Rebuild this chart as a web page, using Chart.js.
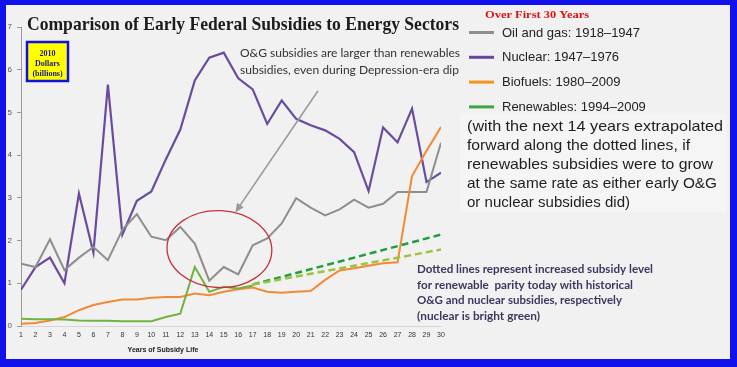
<!DOCTYPE html>
<html>
<head>
<meta charset="utf-8">
<script src="https://cdn.jsdelivr.net/npm/chart.js@4.4.1/dist/chart.umd.min.js"></script>
<style>
  html, body { margin: 0; padding: 0; background: #1111ee; }
  canvas { display: block; }
</style>
</head>
<body>
<canvas id="chart" width="737" height="367"></canvas>
<script>
// Years of subsidy life
const years = [1, 2, 3, 4, 5, 6, 7, 8, 9, 10, 11, 12, 13, 14, 15, 16, 17, 18, 19, 20, 21, 22, 23, 24, 25, 26, 27, 28, 29, 30];

// Subsidies, 2010 dollars (billions)
const oilGas = [1.46, 1.38, 2.03, 1.31, 1.6, 1.85, 1.54, 2.25, 2.62, 2.09, 2.01, 2.32, 1.93, 1.06, 1.38, 1.21, 1.89, 2.05, 2.4, 2.99, 2.77, 2.59, 2.73, 2.96, 2.77, 2.86, 3.14, 3.14, 3.14, 4.29];
const nuclear = [0.85, 1.38, 1.6, 1.0, 3.1, 1.72, 5.65, 2.14, 2.93, 3.15, 3.9, 4.6, 5.75, 6.28, 6.4, 5.8, 5.54, 4.73, 5.28, 4.85, 4.7, 4.58, 4.38, 4.07, 3.16, 4.65, 4.3, 5.09, 3.37, 3.59];
const biofuels = [0.05, 0.07, 0.13, 0.21, 0.37, 0.49, 0.56, 0.62, 0.62, 0.66, 0.68, 0.68, 0.76, 0.72, 0.8, 0.86, 0.9, 0.8, 0.78, 0.8, 0.82, 1.08, 1.3, 1.35, 1.41, 1.47, 1.49, 3.51, 4.1, 4.66];
const renewables = [0.17, 0.16, 0.16, 0.15, 0.13, 0.12, 0.12, 0.11, 0.11, 0.11, 0.21, 0.29, 1.38, 0.8, 0.92, 0.88, 0.95];

// Dotted extrapolations (start and end only)
const paceYears = [17, 30];
const ogPace = [0.97, 1.79];
const nuclearPace = [0.97, 2.14];

const yTicks = [0, 1, 2, 3, 4, 5, 6, 7];

const legendLabels = ['Oil and gas: 1918\u20131947', 'Nuclear: 1947\u20131976', 'Biofuels: 1980\u20132009', 'Renewables: 1994\u20132009'];
const legendColors = ['#8e8e8e', '#6a45a0', '#f7941d', '#3fa346'];

const noteLines = [
    '(with the next 14 years extrapolated',
    'forward along the dotted lines, if',
    'renewables subsidies were to grow',
    'at the same rate as either early O&G',
    'or nuclear subsidies did)'
];
const dottedLines = [
    'Dotted lines represent increased subsidy level',
    'for renewable  parity today with historical',
    'O&G and nuclear subsidies, respectively',
    '(nuclear is bright green)'
];

function pts(xs, ys) {
    return ys.map((v, i) => ({ x: xs[i], y: v }));
}

// draw text squeezed/stretched to a given width
function fitText(ctx, text, x, y, w, font, color) {
    ctx.save();
    ctx.font = font;
    ctx.fillStyle = color;
    ctx.textBaseline = 'alphabetic';
    ctx.textAlign = 'left';
    const m = ctx.measureText(text).width;
    ctx.translate(x, y);
    if (w && m > 0) ctx.scale(w / m, 1);
    ctx.fillText(text, 0, 0);
    ctx.restore();
}

const decorations = {
    id: 'decorations',
    beforeDraw(chart) {
        const ctx = chart.ctx;
        ctx.save();
        ctx.fillStyle = '#1111ee';
        ctx.fillRect(0, 0, chart.width, chart.height);
        ctx.fillStyle = '#f1f1f1';
        ctx.fillRect(6, 5, 724, 354);
        ctx.restore();
    },
    afterDraw(chart) {
        const ctx = chart.ctx;
        const xs = chart.scales.x, ys = chart.scales.y;

        // title
        fitText(ctx, 'Comparison of Early Federal Subsidies to Energy Sectors', 27, 29.5, 432,
            'bold 19px "Liberation Serif", serif', '#1b1b1b');
        fitText(ctx, 'Over First 30 Years', 485, 18, 104, 'bold 11px "Liberation Serif", serif', '#e01010');

        // units box
        ctx.save();
        ctx.fillStyle = '#ffff00';
        ctx.fillRect(27, 42, 41, 39);
        ctx.strokeStyle = '#1010e0';
        ctx.lineWidth = 2.5;
        ctx.strokeRect(27, 42, 41, 39);
        ctx.fillStyle = '#1a1a70';
        ctx.font = 'bold 8px "Liberation Serif", serif';
        ctx.textAlign = 'center';
        ctx.fillText('2010', 47.5, 56);
        ctx.fillText('Dollars', 47.5, 65.5);
        ctx.fillText('(billions)', 47.5, 75.5);
        ctx.restore();

        // legend
        legendLabels.forEach((label, i) => {
            const y = 32.5 + i * 24.8;
            ctx.save();
            ctx.strokeStyle = legendColors[i];
            ctx.lineWidth = 3;
            ctx.beginPath();
            ctx.moveTo(469, y);
            ctx.lineTo(494, y);
            ctx.stroke();
            ctx.restore();
            ctx.save();
            ctx.font = '13px "Liberation Sans", sans-serif';
            ctx.fillStyle = '#222';
            ctx.textBaseline = 'middle';
            ctx.fillText(label, 502, y + 0.5);
            ctx.restore();
        });

        // extrapolation note
        ctx.save();
        ctx.fillStyle = '#f5f5f5';
        ctx.fillRect(460, 114, 266, 98);
        ctx.restore();
        const noteW = [256, 223, 246, 250, 163];
        noteLines.forEach((t, i) => {
            fitText(ctx, t, 467, 131 + i * 19, noteW[i], '15px "Liberation Sans", sans-serif', '#1e1e1e');
        });

        // O&G annotation
        fitText(ctx, 'O&G subsidies are larger than renewables', 240, 57, 220, '12px Lato, sans-serif', '#333');
        fitText(ctx, 'subsidies, even during Depression-era dip', 240, 74, 219, '12px Lato, sans-serif', '#333');

        // dotted lines note
        const dotW = [236, 216, 205, 123];
        dottedLines.forEach((t, i) => {
            fitText(ctx, t, 417, 273 + i * 15.5, dotW[i], 'bold 11px Lato, sans-serif', '#3a3760');
        });

        // arrow to the dip
        const ax0 = xs.getPixelForValue(21.5), ay0 = ys.getPixelForValue(5.5);
        const ax1 = xs.getPixelForValue(15.8), ay1 = ys.getPixelForValue(2.66);
        const ang = Math.atan2(ay1 - ay0, ax1 - ax0);
        ctx.save();
        ctx.strokeStyle = '#9a9a9a';
        ctx.fillStyle = '#9a9a9a';
        ctx.lineWidth = 1.6;
        ctx.beginPath();
        ctx.moveTo(ax0, ay0);
        ctx.lineTo(ax1 - 6 * Math.cos(ang), ay1 - 6 * Math.sin(ang));
        ctx.stroke();
        ctx.beginPath();
        ctx.moveTo(ax1, ay1);
        ctx.lineTo(ax1 - 9 * Math.cos(ang) + 4 * Math.sin(ang), ay1 - 9 * Math.sin(ang) - 4 * Math.cos(ang));
        ctx.lineTo(ax1 - 9 * Math.cos(ang) - 4 * Math.sin(ang), ay1 - 9 * Math.sin(ang) + 4 * Math.cos(ang));
        ctx.closePath();
        ctx.fill();
        ctx.restore();

        // red ellipse around the depression-era dip
        const cx = xs.getPixelForValue(14.7), cy = ys.getPixelForValue(1.8);
        const rx = xs.getPixelForValue(14.7 + 3.62) - cx;
        const ry = cy - ys.getPixelForValue(1.8 + 0.9);
        ctx.save();
        ctx.strokeStyle = '#c43338';
        ctx.lineWidth = 1.3;
        ctx.beginPath();
        ctx.ellipse(cx, cy, rx, ry, 0.05, 0, Math.PI * 2);
        ctx.stroke();
        ctx.restore();

        // x axis title
        ctx.save();
        ctx.font = 'bold 7px "Liberation Sans", sans-serif';
        ctx.fillStyle = '#222';
        ctx.textAlign = 'center';
        ctx.fillText('Years of Subsidy Life', 163, 352);
        ctx.restore();
    }
};

new Chart(document.getElementById('chart'), {
    type: 'line',
    data: {
        datasets: [
            { label: 'Oil and gas', data: pts(years, oilGas), borderColor: '#8e8e8e', borderWidth: 2, order: 3 },
            { label: 'Nuclear', data: pts(years, nuclear), borderColor: '#6a4c9f', borderWidth: 2.2, order: 4 },
            { label: 'Biofuels', data: pts(years, biofuels), borderColor: '#f28a35', borderWidth: 2, order: 2 },
            { label: 'Renewables', data: pts(years, renewables), borderColor: '#72b242', borderWidth: 2, order: 1 },
            { label: 'O&G pace', data: pts(paceYears, ogPace), borderColor: '#9cc23e', borderWidth: 2.5, borderDash: [7, 4], order: 0 },
            { label: 'Nuclear pace', data: pts(paceYears, nuclearPace), borderColor: '#1f9f3c', borderWidth: 2.5, borderDash: [7, 4], order: 0 }
        ]
    },
    options: {
        responsive: false,
        animation: false,
        devicePixelRatio: 1,
        layout: { padding: { left: 0, top: 27, right: 296, bottom: 17 } },
        elements: { point: { radius: 0 }, line: { tension: 0 } },
        plugins: { legend: { display: false }, tooltip: { enabled: false } },
        scales: {
            x: {
                type: 'linear',
                min: 1,
                max: 30,
                afterFit: s => { s.height = 24; },
                ticks: {
                    stepSize: 1,
                    autoSkip: false,
                    maxRotation: 0,
                    padding: 5,
                    color: '#333',
                    font: { size: 7, family: 'Liberation Sans' }
                },
                grid: { drawOnChartArea: false, drawTicks: false },
                border: { color: '#d6d6d6' }
            },
            y: {
                min: 0,
                max: 7,
                afterFit: s => { s.width = 21; },
                afterBuildTicks: s => { s.ticks = yTicks.map(v => ({ value: v })); },
                ticks: {
                    padding: 5,
                    color: '#555',
                    font: { size: 8, family: 'Liberation Sans' }
                },
                grid: { drawOnChartArea: false, tickLength: 4, color: '#999' },
                border: { color: '#999' }
            }
        }
    },
    plugins: [decorations]
});
</script>
</body>
</html>
